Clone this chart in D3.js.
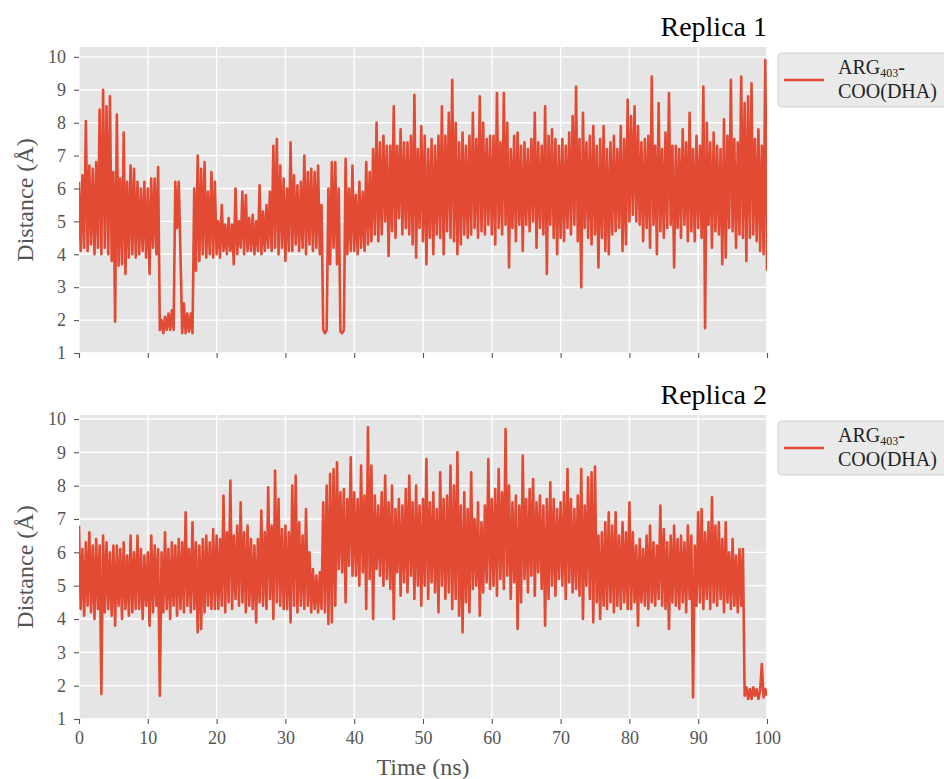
<!DOCTYPE html>
<html>
<head>
<meta charset="utf-8">
<script src="https://cdn.jsdelivr.net/npm/d3@7"></script>
<style>
  body { margin: 0; background: #fff; }
  svg text { font-family: "Liberation Serif", "Times New Roman", serif; }
</style>
</head>
<body>
<div id="chart"></div>
<script>
// distance traces, one value every 0.25 ns, rows of 10 ns
const replica1 = [
  [6.2, 4.1, 6.4, 4.2, 8.05, 4.1, 6.7, 4.3, 6.6, 4.0, 6.8, 4.2, 8.4, 4.0, 9.0, 4.2, 8.5, 4.0, 8.8, 3.8, 6.5, 1.95, 8.25, 3.65, 6.3, 3.7, 7.7, 3.4, 6.2, 3.9, 6.7, 4.0, 6.6, 3.9, 6.2, 4.0, 6.0, 4.1, 6.2, 3.9],
  [6.0, 3.4, 6.3, 4.2, 6.3, 4.0, 6.65, 1.7, 2.0, 1.6, 2.1, 1.7, 2.2, 1.7, 2.3, 1.7, 6.2, 4.8, 6.2, 4.0, 1.6, 2.5, 1.6, 2.2, 1.65, 2.2, 1.6, 6.0, 3.5, 7.0, 3.8, 6.6, 4.0, 6.8, 3.9, 5.9, 4.0, 6.5, 3.9, 6.2],
  [4.0, 5.0, 3.9, 5.5, 4.1, 4.9, 4.0, 5.1, 4.1, 4.9, 3.7, 6.0, 4.0, 5.0, 4.2, 5.9, 4.0, 5.8, 4.1, 5.1, 4.1, 5.2, 4.0, 5.0, 4.1, 6.1, 4.0, 5.3, 4.1, 5.5, 4.2, 5.9, 4.1, 7.3, 4.2, 7.5, 4.0, 6.7, 4.2, 6.3],
  [3.8, 6.0, 4.1, 7.4, 4.1, 6.4, 4.3, 6.1, 4.1, 6.2, 4.2, 7.0, 4.0, 6.5, 4.3, 6.6, 4.1, 6.5, 4.2, 6.7, 4.0, 5.5, 1.7, 1.6, 1.7, 6.0, 3.7, 6.8, 4.2, 6.8, 3.7, 6.0, 1.65, 1.6, 1.7, 6.9, 4.0, 6.0, 4.1, 6.7],
  [4.1, 5.8, 4.0, 6.2, 4.2, 5.9, 4.1, 6.8, 4.3, 6.5, 4.4, 7.2, 4.6, 8.0, 4.4, 7.4, 4.6, 7.6, 5.0, 7.3, 3.95, 7.3, 4.7, 8.5, 4.5, 7.3, 5.1, 7.8, 4.6, 7.4, 4.8, 7.4, 4.6, 7.6, 4.3, 8.85, 3.9, 7.2, 4.8, 7.9],
  [4.4, 7.6, 3.7, 7.2, 4.5, 7.5, 4.0, 7.3, 4.6, 7.6, 4.5, 8.5, 4.0, 7.6, 4.7, 8.3, 4.5, 9.3, 4.4, 8.0, 4.0, 7.4, 4.3, 7.7, 4.6, 7.3, 4.5, 7.6, 4.6, 8.3, 4.8, 7.5, 4.5, 8.8, 4.7, 8.0, 4.6, 7.5, 4.9, 7.6],
  [4.6, 7.6, 4.3, 8.9, 4.8, 7.4, 4.6, 8.9, 4.9, 8.0, 3.6, 7.2, 4.8, 7.6, 4.4, 7.7, 4.9, 7.3, 4.1, 7.4, 4.9, 7.2, 4.7, 7.5, 5.0, 8.3, 4.2, 7.4, 4.8, 7.3, 4.6, 8.5, 3.4, 7.6, 4.9, 7.8, 4.5, 7.5, 4.0, 7.3],
  [4.5, 7.5, 4.4, 7.3, 4.8, 7.7, 4.6, 8.2, 4.9, 9.1, 4.4, 7.5, 3.0, 8.3, 4.8, 7.4, 4.5, 7.6, 4.3, 7.9, 4.6, 7.3, 3.6, 7.5, 4.5, 7.9, 4.1, 7.2, 4.0, 7.4, 4.6, 7.6, 4.7, 7.2, 4.8, 7.9, 4.1, 7.5, 4.3, 8.7],
  [5.0, 8.2, 5.2, 8.5, 5.0, 7.9, 4.9, 7.4, 4.4, 7.5, 4.8, 7.6, 4.2, 9.4, 4.9, 7.3, 4.0, 8.6, 4.7, 7.2, 4.5, 7.7, 4.8, 8.9, 4.9, 7.3, 3.6, 7.3, 4.8, 7.2, 4.5, 7.8, 4.9, 7.4, 4.4, 8.3, 4.7, 7.2, 4.4, 7.6],
  [4.8, 7.3, 4.5, 9.1, 1.75, 8.0, 4.9, 7.4, 4.2, 7.7, 4.7, 7.3, 4.6, 7.2, 3.7, 8.1, 3.9, 7.6, 4.8, 9.3, 4.7, 7.5, 4.2, 7.4, 4.6, 9.4, 4.5, 8.6, 3.8, 8.8, 4.5, 9.2, 4.6, 7.5, 4.4, 7.8, 4.1, 7.3, 4.0, 9.9, 3.5]
];

const replica2 = [
  [6.8, 4.3, 6.1, 4.1, 6.3, 4.4, 6.6, 4.2, 6.2, 4.0, 6.4, 4.3, 6.2, 1.75, 6.5, 4.2, 6.3, 4.3, 6.0, 4.1, 6.2, 3.8, 6.2, 4.4, 6.1, 4.0, 6.3, 4.3, 5.9, 4.1, 6.5, 4.2, 6.0, 4.3, 6.5, 4.3, 6.1, 4.0, 5.9, 4.4],
  [6.0, 3.8, 6.5, 4.2, 6.2, 4.4, 6.1, 1.7, 6.0, 4.2, 6.6, 4.3, 6.1, 4.0, 6.3, 4.4, 6.2, 4.1, 6.4, 4.3, 6.3, 4.2, 7.2, 4.4, 6.1, 4.2, 6.9, 4.3, 6.3, 3.6, 6.2, 3.7, 6.4, 4.2, 6.5, 4.4, 6.3, 4.3, 6.7, 4.3],
  [6.5, 4.3, 6.4, 4.4, 7.7, 4.2, 6.6, 4.5, 8.15, 4.3, 6.5, 4.6, 6.8, 4.4, 7.5, 4.5, 6.6, 4.2, 6.8, 4.4, 6.4, 4.3, 6.2, 3.9, 6.4, 4.5, 7.25, 4.4, 6.6, 4.3, 7.95, 4.6, 6.8, 4.0, 8.45, 4.5, 7.6, 4.4, 6.7, 4.3],
  [6.8, 4.3, 6.6, 3.9, 8.0, 4.4, 8.3, 4.2, 6.9, 4.4, 6.5, 4.3, 7.3, 4.4, 6.0, 4.2, 5.5, 4.3, 5.3, 4.2, 5.4, 4.3, 7.5, 4.2, 8.0, 3.85, 8.35, 3.9, 8.5, 4.4, 8.7, 5.5, 7.8, 5.4, 7.9, 4.5, 7.6, 5.6, 8.85, 5.3],
  [7.8, 5.3, 7.6, 5.0, 8.6, 5.4, 7.7, 4.3, 9.75, 5.2, 8.6, 4.0, 7.7, 5.5, 7.4, 5.3, 7.8, 5.0, 8.3, 5.2, 7.5, 4.9, 8.0, 4.0, 7.3, 5.4, 7.6, 4.7, 7.4, 5.1, 7.9, 4.8, 8.3, 5.3, 7.5, 4.6, 8.0, 5.0, 7.4, 4.4],
  [7.6, 5.0, 8.8, 4.6, 7.5, 5.1, 7.8, 4.8, 7.3, 4.2, 8.4, 5.0, 7.6, 4.6, 7.7, 4.8, 8.6, 4.3, 8.0, 4.6, 9.0, 4.1, 7.4, 3.6, 7.8, 4.5, 7.3, 4.2, 8.4, 4.9, 7.0, 5.0, 7.5, 4.1, 6.9, 4.8, 7.4, 5.1, 8.8, 4.9],
  [7.6, 5.0, 7.9, 4.7, 8.5, 5.2, 7.8, 4.9, 9.7, 5.3, 8.0, 4.6, 7.5, 5.1, 7.7, 3.7, 7.4, 4.5, 8.9, 5.2, 7.6, 4.8, 7.9, 5.3, 8.2, 4.7, 7.5, 5.4, 7.7, 4.9, 7.4, 3.8, 7.6, 4.6, 8.1, 5.0, 7.6, 4.7, 7.3, 5.2],
  [7.5, 5.0, 7.8, 4.6, 8.5, 5.1, 7.6, 4.8, 7.3, 4.9, 7.7, 4.7, 8.5, 4.0, 7.4, 5.0, 8.25, 4.6, 8.4, 3.9, 8.57, 4.5, 6.5, 4.0, 6.6, 4.4, 6.9, 4.3, 7.2, 4.5, 6.8, 4.2, 7.2, 4.4, 6.5, 4.3, 6.9, 4.5, 6.6, 4.3],
  [7.5, 4.3, 6.6, 4.5, 6.2, 3.8, 6.4, 4.5, 6.1, 4.4, 6.5, 4.3, 6.8, 4.5, 6.3, 4.4, 6.2, 4.6, 7.4, 4.4, 6.7, 4.3, 6.3, 3.7, 6.5, 4.5, 6.8, 4.4, 6.4, 4.3, 6.5, 4.5, 6.3, 4.2, 6.8, 4.6, 6.5, 1.65, 6.2, 4.4],
  [7.2, 4.5, 7.3, 4.3, 6.6, 4.6, 6.9, 4.3, 7.65, 4.5, 6.8, 4.4, 6.9, 4.6, 6.4, 4.2, 6.9, 4.5, 6.0, 4.3, 6.4, 4.4, 5.9, 4.2, 6.1, 4.4, 6.1, 1.7, 1.95, 1.6, 1.9, 1.6, 1.95, 1.7, 1.9, 1.6, 1.85, 2.65, 1.65, 1.9, 1.7]
];

const xTicks = [0, 10, 20, 30, 40, 50, 60, 70, 80, 90, 100];
const yTicks = [1, 2, 3, 4, 5, 6, 7, 8, 9, 10];
const panelTitles = ["Replica 1", "Replica 2"];
const xLabel = "Time (ns)";
const yLabel = "Distance (Å)";

const width = 944;
const height = 779;
const lineColor = "#E24A33";
const tickColor = "#555555";

const svg = d3.select("#chart")
    .append("svg")
    .attr("width", width)
    .attr("height", height);

const x = d3.scaleLinear().domain([0, 100]).range([79, 767]);

// panel boxes (pixel layout) and y limits
const panels = [
    { title: panelTitles[0], rows: replica1, top: 47, bottom: 353, yMax: 10.3, xLabels: false },
    { title: panelTitles[1], rows: replica2, top: 415, bottom: 719, yMax: 10.12, xLabels: true }
];

panels.forEach((p, k) => {
    const values = p.rows.flat();
    const times = values.map((_, i) => i * 100 / (values.length - 1));
    const y = d3.scaleLinear().domain([1, p.yMax]).range([p.bottom, p.top]);
    const g = svg.append("g");

    // background
    g.append("rect")
        .attr("x", x(0))
        .attr("y", p.top)
        .attr("width", x(100) - x(0))
        .attr("height", p.bottom - p.top)
        .attr("fill", "#E5E5E5");

    // grid
    g.selectAll(".gx")
        .data(xTicks)
        .join("line")
        .attr("x1", d => x(d)).attr("x2", d => x(d))
        .attr("y1", p.top).attr("y2", p.bottom)
        .attr("stroke", "#fff").attr("stroke-width", 1.4);
    g.selectAll(".gy")
        .data(yTicks)
        .join("line")
        .attr("x1", x(0)).attr("x2", x(100))
        .attr("y1", d => y(d)).attr("y2", d => y(d))
        .attr("stroke", "#fff").attr("stroke-width", 1.4);

    // clip + trace
    svg.append("clipPath")
        .attr("id", "clip" + k)
        .append("rect")
        .attr("x", x(0)).attr("y", p.top)
        .attr("width", x(100) - x(0)).attr("height", p.bottom - p.top);

    const line = d3.line()
        .x((d, i) => x(times[i]))
        .y(d => y(d));

    g.append("path")
        .datum(values)
        .attr("clip-path", `url(#clip${k})`)
        .attr("fill", "none")
        .attr("stroke", lineColor)
        .attr("stroke-width", 2.6)
        .attr("stroke-linejoin", "round")
        .attr("d", line);

    // axes
    const xAxis = d3.axisBottom(x)
        .tickValues(xTicks)
        .tickSize(5)
        .tickPadding(7)
        .tickFormat(p.xLabels ? d3.format("d") : "");
    const gx = g.append("g")
        .attr("transform", `translate(0,${p.bottom})`)
        .call(xAxis);

    const yAxis = d3.axisLeft(y)
        .tickValues(yTicks)
        .tickSize(5)
        .tickPadding(8)
        .tickFormat(d3.format("d"));
    const gy = g.append("g")
        .attr("transform", `translate(${x(0)},0)`)
        .call(yAxis);

    [gx, gy].forEach(a => {
        a.select(".domain").remove();
        a.selectAll(".tick line").attr("stroke", tickColor).attr("stroke-width", 1.1);
        a.selectAll(".tick text")
            .attr("fill", tickColor)
            .style("font-size", "18px")
            .style("font-family", "'Liberation Serif', serif");
    });

    // title
    g.append("text")
        .attr("x", x(100))
        .attr("y", p.top - 11)
        .attr("text-anchor", "end")
        .attr("fill", "#000")
        .style("font-size", "28px")
        .text(p.title);

    // y label
    g.append("text")
        .attr("transform", `translate(33,${(p.top + p.bottom) / 2}) rotate(-90)`)
        .attr("text-anchor", "middle")
        .attr("fill", tickColor)
        .style("font-size", "24px")
        .text(yLabel);

    // legend
    const lg = g.append("g").attr("transform", `translate(778,${p.top + 6})`);
    lg.append("rect")
        .attr("width", 200).attr("height", 54)
        .attr("rx", 4)
        .attr("fill", "#EAEAEA")
        .attr("stroke", "#D0D0D0");
    lg.append("line")
        .attr("x1", 6).attr("x2", 46)
        .attr("y1", 27).attr("y2", 27)
        .attr("stroke", lineColor).attr("stroke-width", 2.4);
    const lt = lg.append("text")
        .attr("x", 60).attr("y", 21)
        .attr("fill", "#222")
        .style("font-size", "20px");
    lt.append("tspan").text("ARG");
    lt.append("tspan").attr("dy", 3).style("font-size", "12px").text("403");
    lt.append("tspan").attr("dy", -3).text("-");
    lt.append("tspan").attr("x", 60).attr("dy", 24).text("COO(DHA)");
});

// x label
svg.append("text")
    .attr("x", (x(0) + x(100)) / 2)
    .attr("y", 775)
    .attr("text-anchor", "middle")
    .attr("fill", tickColor)
    .style("font-size", "24px")
    .text(xLabel);
</script>
</body>
</html>
